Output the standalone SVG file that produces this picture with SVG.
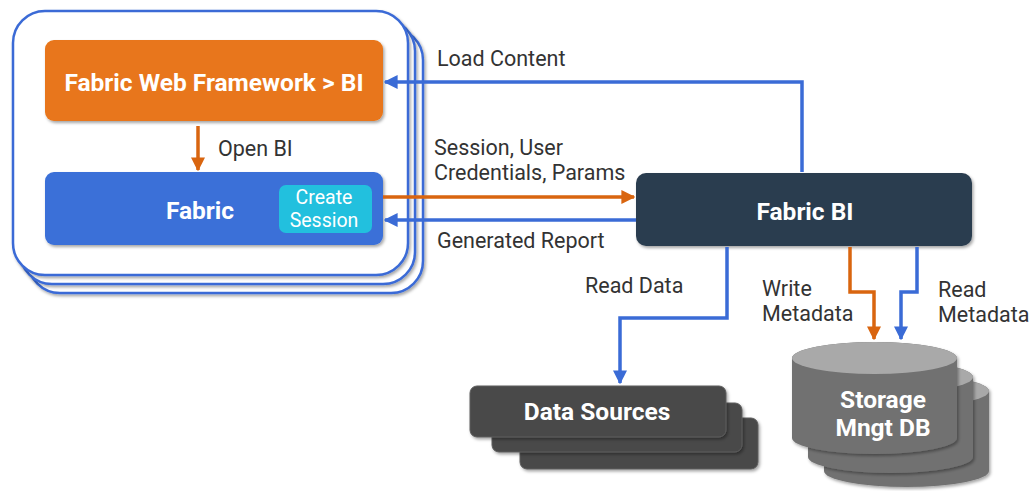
<svg xmlns="http://www.w3.org/2000/svg" width="1034" height="491" viewBox="0 0 1034 491">
<defs>
<filter id="sh" x="-10%" y="-10%" width="130%" height="140%">
<feDropShadow dx="1.5" dy="2" stdDeviation="1.8" flood-color="#000" flood-opacity="0.35"/>
</filter>
<marker id="abm" viewBox="0 0 10 10" refX="9" refY="5" markerWidth="14" markerHeight="14" orient="auto" markerUnits="userSpaceOnUse">
<path d="M0,0 L10,5 L0,10 z" fill="#3a6bd6"/>
</marker>
<marker id="aom" viewBox="0 0 10 10" refX="9" refY="5" markerWidth="14" markerHeight="14" orient="auto" markerUnits="userSpaceOnUse">
<path d="M0,0 L10,5 L0,10 z" fill="#d9650f"/>
</marker>
</defs>
<style>
.lbl{font-family:Roboto,"Liberation Sans",sans-serif;font-size:21.5px;fill:#333}
.bt{font-family:Roboto,"Liberation Sans",sans-serif;font-weight:bold;fill:#fff;text-anchor:middle;font-size:24.5px}
.cs{font-family:Roboto,"Liberation Sans",sans-serif;font-size:19.5px;fill:#fff;text-anchor:middle}
.cont{fill:#fff;stroke:#3a6bd6;stroke-width:2.5}
.b{fill:none;stroke:#3a6bd6;stroke-width:3.5}
.o{fill:none;stroke:#d9650f;stroke-width:3.5}
.ds{fill:#4a4a4a;stroke:#5c5c5c;stroke-width:1}
.cyb{fill:#717171}
.cyt{fill:#a9a9a9}
</style>
<rect width="1034" height="491" fill="#fff"/>

<g id="container">
<rect class="cont" x="28" y="28" width="395" height="265" rx="32" filter="url(#sh)"/>
<rect class="cont" x="20" y="19" width="395" height="265" rx="32" filter="url(#sh)"/>
<rect class="cont" x="13" y="11" width="395" height="264" rx="32" filter="url(#sh)"/>
</g>

<g id="node-fwf">
<rect x="45" y="40" width="338" height="81" rx="9" fill="#e8761a" filter="url(#sh)"/>
<text class="bt" x="214" y="91">Fabric Web Framework &gt; BI</text>
</g>

<g id="node-fabric">
<rect x="45" y="172" width="338" height="73" rx="9" fill="#3a6fd8" filter="url(#sh)"/>
<text class="bt" x="200" y="219">Fabric</text>
<g id="node-create-session">
<rect x="279" y="185" width="93" height="48" rx="7" fill="#22c0de"/>
<text class="cs" x="324" y="204">Create</text>
<text class="cs" x="324" y="227">Session</text>
</g>
</g>

<g id="node-fabric-bi">
<rect x="636" y="173" width="336" height="73" rx="10" fill="#2c3e50" filter="url(#sh)"/>
<text class="bt" x="805" y="220">Fabric BI</text>
</g>

<g id="node-data-sources">
<rect class="ds" x="520" y="418" width="238" height="51" rx="7" filter="url(#sh)"/>
<rect class="ds" x="492" y="403" width="250" height="49" rx="7" filter="url(#sh)"/>
<rect class="ds" x="470" y="386" width="256" height="51" rx="7" filter="url(#sh)"/>
<text class="bt" x="597" y="420">Data Sources</text>
</g>

<g id="node-storage">
<g filter="url(#sh)">
<path class="cyb" d="M824,391 A82.5,16 0 0 1 989,391 V471 A82.5,16 0 0 1 824,471 Z"/>
<ellipse class="cyt" cx="906.5" cy="391" rx="82.5" ry="16"/>
</g>
<g filter="url(#sh)">
<path class="cyb" d="M808,377 A82.5,16 0 0 1 973,377 V457 A82.5,16 0 0 1 808,457 Z"/>
<ellipse class="cyt" cx="890.5" cy="377" rx="82.5" ry="16"/>
</g>
<g filter="url(#sh)">
<path class="cyb" d="M792,358 A82.5,16 0 0 1 957,358 V438 A82.5,16 0 0 1 792,438 Z"/>
<ellipse class="cyt" cx="874.5" cy="358" rx="82.5" ry="16"/>
</g>
<text class="bt" x="883" y="408">Storage</text>
<text class="bt" x="883" y="436">Mngt DB</text>
</g>

<g id="connectors">
<path class="o" d="M198,126 V170" marker-end="url(#aom)"/>
<path class="b" d="M802,172 V82 H385" marker-end="url(#abm)"/>
<path class="o" d="M383,197 H634" marker-end="url(#aom)"/>
<path class="b" d="M636,220 H385" marker-end="url(#abm)"/>
<path class="b" d="M727,247 V318 H620 V383" marker-end="url(#abm)"/>
<path class="o" d="M850,247 V292 H874 V339" marker-end="url(#aom)"/>
<path class="b" d="M917,247 V292 H901 V339" marker-end="url(#abm)"/>
</g>

<g id="labels">
<text class="lbl" x="218" y="156">Open BI</text>
<text class="lbl" x="437" y="66">Load Content</text>
<text class="lbl" x="434" y="155">Session, User</text>
<text class="lbl" x="434" y="180">Credentials, Params</text>
<text class="lbl" x="437" y="248">Generated Report</text>
<text class="lbl" x="585" y="293">Read Data</text>
<text class="lbl" x="762" y="296">Write</text>
<text class="lbl" x="762" y="321">Metadata</text>
<text class="lbl" x="938" y="297">Read</text>
<text class="lbl" x="938" y="322">Metadata</text>
</g>
</svg>
